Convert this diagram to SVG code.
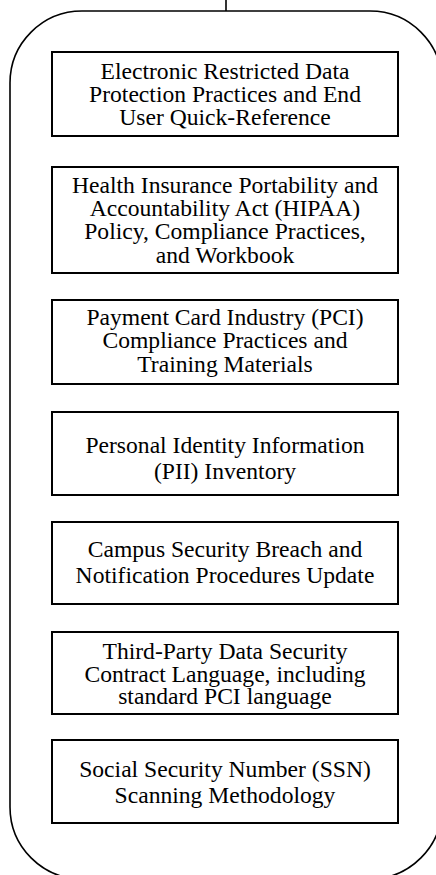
<svg xmlns="http://www.w3.org/2000/svg" width="436" height="875" viewBox="0 0 436 875">
<style>
.frame{fill:none;stroke:#000;stroke-width:1.6}
.box{fill:#fff;stroke:#000;stroke-width:2}
.lbl{font-family:"Liberation Serif","Times New Roman",serif;font-size:23.6px;fill:#000;text-anchor:middle}
.conn{stroke:#000;stroke-width:1.6;fill:none}
</style>
<rect width="436" height="875" fill="#fff"/>
<g id="connectors">
<line class="conn" x1="226" y1="0" x2="226" y2="11"/>
</g>
<g id="container">
<rect class="frame" x="10" y="11" width="432" height="868" rx="72" ry="72"/>
</g>
<g id="node1">
<rect class="box" x="52" y="52" width="346" height="84"/>
<text class="lbl" x="225" y="79">Electronic Restricted Data</text>
<text class="lbl" x="225" y="102">Protection Practices and End</text>
<text class="lbl" x="225" y="125">User Quick-Reference</text>
</g>
<g id="node2">
<rect class="box" x="52" y="167" width="346" height="106"/>
<text class="lbl" x="225" y="193">Health Insurance Portability and</text>
<text class="lbl" x="225" y="216">Accountability Act (HIPAA)</text>
<text class="lbl" x="225" y="239">Policy, Compliance Practices,</text>
<text class="lbl" x="225" y="263">and Workbook</text>
</g>
<g id="node3">
<rect class="box" x="52" y="300" width="346" height="84"/>
<text class="lbl" x="225" y="325">Payment Card Industry (PCI)</text>
<text class="lbl" x="225" y="348">Compliance Practices and</text>
<text class="lbl" x="225" y="372">Training Materials</text>
</g>
<g id="node4">
<rect class="box" x="52" y="412" width="346" height="83"/>
<text class="lbl" x="225" y="453">Personal Identity Information</text>
<text class="lbl" x="225" y="479">(PII) Inventory</text>
</g>
<g id="node5">
<rect class="box" x="52" y="522" width="346" height="82"/>
<text class="lbl" x="225" y="557">Campus Security Breach and</text>
<text class="lbl" x="225" y="583">Notification Procedures Update</text>
</g>
<g id="node6">
<rect class="box" x="52" y="632" width="346" height="82"/>
<text class="lbl" x="225" y="659">Third-Party Data Security</text>
<text class="lbl" x="225" y="682">Contract Language, including</text>
<text class="lbl" x="225" y="704">standard PCI language</text>
</g>
<g id="node7">
<rect class="box" x="52" y="740" width="346" height="83"/>
<text class="lbl" x="225" y="777">Social Security Number (SSN)</text>
<text class="lbl" x="225" y="803">Scanning Methodology</text>
</g>
</svg>
